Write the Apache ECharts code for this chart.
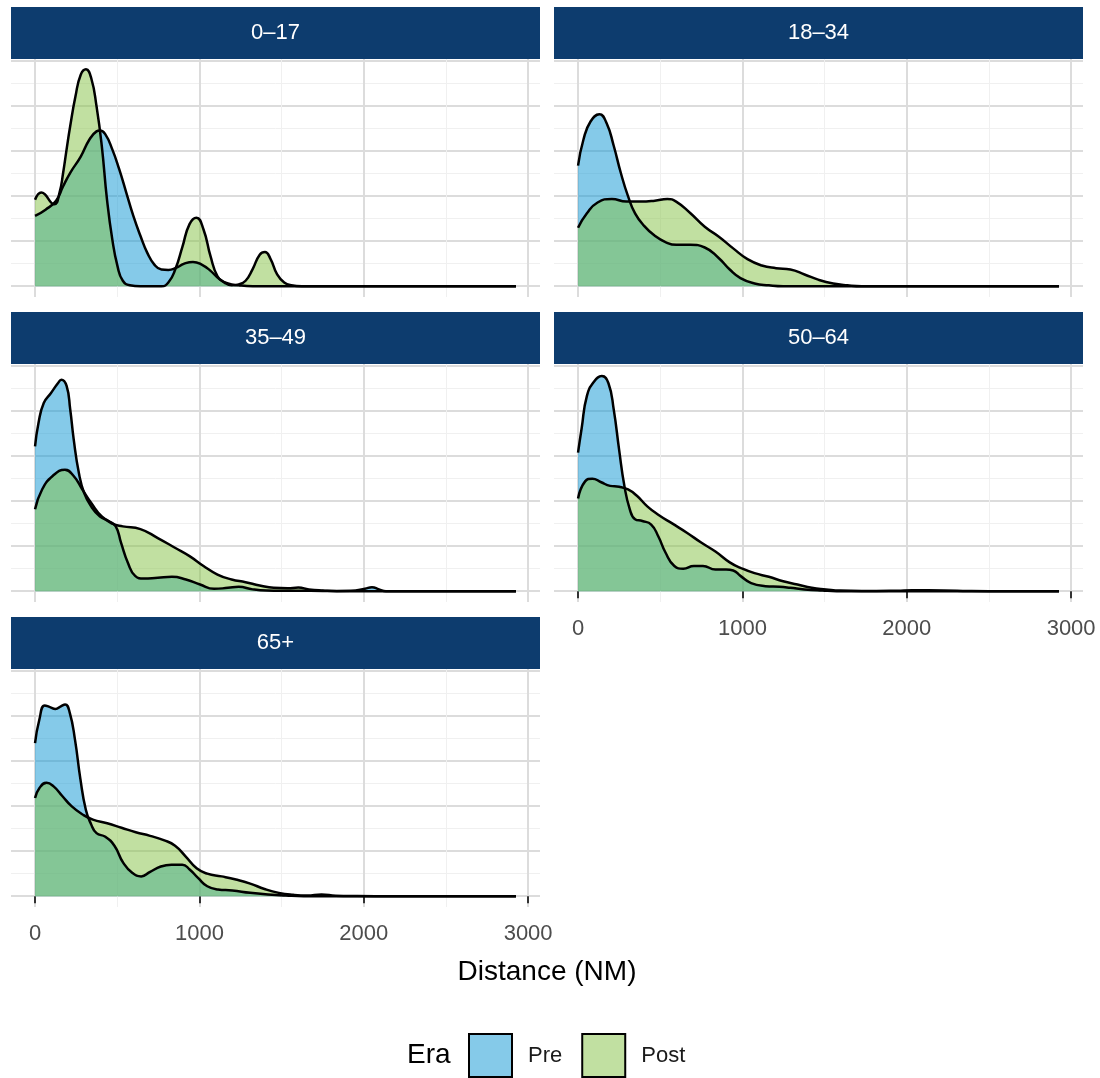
<!DOCTYPE html>
<html>
<head>
<meta charset="utf-8">
<script src="https://cdn.jsdelivr.net/npm/echarts@6/dist/echarts.min.js"></script>
<style>html,body{margin:0;padding:0;background:#fff}#chart{width:1100px;height:1078px}</style>
</head>
<body>
<div id="chart"></div>
<script>
// ---------- data ----------
const panelTitles = ['0–17', '18–34', '35–49', '50–64', '65+'];
const eraNames = ['Pre', 'Post'];
const xTickValues = [0, 1000, 2000, 3000];
const yGridValues = [0, 0.5, 1, 1.5, 2, 2.5];
const xDataMax = 2926;     // distance range of the densities (NM)
const yDataMax = 2.404;    // max density (x 1e-3)

// density estimates (x = distance NM, y = density x 1e-3)
const pre_0_17 = [[0,0.78],[64,0.85],[128,0.95],[171,1.11],[214,1.26],[278,1.44],[331,1.63],[374,1.72],[395,1.73],[427,1.69],[470,1.52],[512,1.30],[555,1.04],[598,0.78],[641,0.56],[683,0.37],[726,0.24],[769,0.185],[811,0.18],[854,0.20],[908,0.25],[961,0.27],[1014,0.24],[1068,0.17],[1121,0.08],[1174,0.03],[1239,0.01],[1324,0],[2926,0]];
const post_0_17 = [[0,0.96],[38,1.04],[117,0.91],[149,1.04],[171,1.26],[192,1.52],[214,1.78],[246,2.11],[278,2.35],[310,2.41],[342,2.31],[374,2.0],[406,1.56],[438,0.96],[470,0.52],[502,0.22],[534,0.06],[577,0.01],[641,0],[769,0],[811,0.04],[854,0.19],[897,0.44],[940,0.69],[982,0.76],[1025,0.63],[1068,0.33],[1110,0.11],[1153,0.04],[1196,0.01],[1239,0.02],[1281,0.06],[1324,0.19],[1367,0.35],[1399,0.38],[1431,0.31],[1473,0.13],[1516,0.04],[1559,0.01],[1623,0],[2926,0]];

const pre_18_34 = [[0,1.34],[33,1.63],[76,1.83],[130,1.91],[174,1.81],[217,1.56],[260,1.26],[304,1.0],[347,0.81],[402,0.67],[467,0.56],[532,0.49],[597,0.46],[684,0.46],[771,0.43],[857,0.31],[923,0.185],[988,0.09],[1074,0.03],[1161,0.01],[1248,0],[2926,0]];
const post_18_34 = [[0,0.65],[54,0.81],[119,0.93],[206,0.97],[293,0.94],[380,0.94],[467,0.95],[543,0.97],[597,0.94],[684,0.81],[771,0.66],[857,0.55],[944,0.42],[1031,0.30],[1118,0.23],[1205,0.20],[1292,0.185],[1378,0.13],[1465,0.07],[1552,0.03],[1639,0.01],[1726,0],[2926,0]];

const pre_35_49 = [[0,1.61],[21,1.87],[53,2.09],[96,2.20],[139,2.31],[160,2.35],[192,2.28],[214,2.02],[235,1.69],[267,1.31],[299,1.09],[342,0.94],[395,0.83],[448,0.78],[491,0.72],[523,0.54],[566,0.31],[609,0.17],[662,0.14],[747,0.15],[833,0.16],[918,0.13],[1004,0.074],[1089,0.026],[1174,0.037],[1239,0.048],[1324,0.02],[1409,0.007],[1495,0.005],[1602,0.005],[1751,0.002],[1922,0.005],[2007,0.026],[2050,0.044],[2093,0.02],[2135,0],[2926,0]];
const post_35_49 = [[0,0.91],[43,1.13],[107,1.28],[182,1.35],[235,1.28],[288,1.13],[342,0.98],[406,0.83],[470,0.75],[534,0.72],[641,0.69],[747,0.59],[854,0.48],[940,0.39],[1025,0.28],[1110,0.185],[1196,0.13],[1281,0.10],[1367,0.063],[1452,0.037],[1537,0.033],[1602,0.04],[1666,0.02],[1751,0.007],[1836,0],[2926,0]];

const pre_50_64 = [[0,1.54],[22,1.81],[54,2.17],[98,2.33],[145,2.39],[185,2.31],[217,2.02],[250,1.57],[282,1.17],[315,0.91],[347,0.80],[391,0.78],[445,0.74],[488,0.61],[532,0.43],[586,0.28],[640,0.25],[705,0.28],[760,0.28],[836,0.24],[901,0.24],[944,0.23],[988,0.17],[1053,0.09],[1140,0.056],[1226,0.048],[1292,0.037],[1378,0.02],[1487,0.007],[1574,0],[2926,0]];
const post_50_64 = [[0,1.03],[43,1.22],[87,1.25],[141,1.21],[195,1.17],[250,1.16],[304,1.13],[358,1.06],[423,0.94],[488,0.85],[575,0.75],[662,0.65],[749,0.54],[836,0.44],[923,0.32],[988,0.26],[1074,0.20],[1161,0.16],[1248,0.11],[1335,0.074],[1422,0.037],[1509,0.02],[1595,0.007],[1726,0.003],[1943,0.006],[2030,0.01],[2225,0.008],[2377,0.002],[2500,0],[2926,0]];

const pre_65 = [[0,1.70],[26,1.96],[59,2.12],[91,2.10],[124,2.08],[157,2.11],[183,2.13],[211,2.04],[243,1.74],[276,1.30],[309,0.96],[341,0.80],[374,0.70],[428,0.66],[483,0.56],[537,0.37],[591,0.26],[646,0.22],[700,0.27],[765,0.33],[830,0.35],[896,0.35],[939,0.30],[993,0.20],[1048,0.11],[1113,0.074],[1200,0.063],[1309,0.037],[1417,0.019],[1526,0.007],[1635,0],[2926,0]];
const post_65 = [[0,1.09],[26,1.20],[70,1.26],[113,1.22],[167,1.11],[222,1.0],[287,0.91],[352,0.85],[439,0.81],[526,0.76],[613,0.71],[700,0.67],[787,0.62],[852,0.56],[917,0.44],[983,0.31],[1048,0.25],[1135,0.22],[1222,0.185],[1309,0.14],[1396,0.08],[1483,0.037],[1570,0.015],[1657,0.007],[1743,0.019],[1830,0.005],[1961,0.002],[2178,0],[2926,0]];

const preByPanel = [pre_0_17, pre_18_34, pre_35_49, pre_50_64, pre_65];
const postByPanel = [post_0_17, post_18_34, post_35_49, post_50_64, post_65];

// ---------- layout / style ----------
const FONT = '"Liberation Sans", Arial, Helvetica, sans-serif';
const PRE_FILL = 'rgba(11,149,211,0.5)';
const POST_FILL = 'rgba(131,193,67,0.5)';
const STRIP_FILL = '#0d3c6e';
const PW = 529, PH = 238, STRIP_H = 52;
const panelPos = [
  {left: 11, top: 59}, {left: 554, top: 59},
  {left: 11, top: 364}, {left: 554, top: 364},
  {left: 11, top: 669}
];
const hasXAxis = [false, false, false, true, true];

const xMin = -0.05 * xDataMax, xMax = 1.05 * xDataMax;
const yMin = -0.05 * yDataMax, yMax = 1.05 * yDataMax;

const majorLine = {color: '#dcdcdc', width: 2};
const minorLine = {color: '#f0f0f0', width: 1};

const grids = [], xAxes = [], yAxes = [], series = [], graphics = [];
panelTitles.forEach((title, i) => {
  const p = panelPos[i];
  grids.push({left: p.left, top: p.top, width: PW, height: PH, containLabel: false});
  xAxes.push({
    type: 'value', gridIndex: i, min: xMin, max: xMax, splitNumber: 3,
    axisLine: {show: false},
    axisTick: {show: hasXAxis[i], customValues: xTickValues, length: 7, lineStyle: {color: '#333333', width: 2}},
    axisLabel: {show: hasXAxis[i], customValues: xTickValues, margin: 16, fontSize: 22, color: '#4d4d4d', fontFamily: FONT,
                formatter: v => String(v)},
    splitLine: {show: true, lineStyle: majorLine},
    minorTick: {show: false, splitNumber: 2},
    minorSplitLine: {show: true, lineStyle: minorLine}
  });
  yAxes.push({
    type: 'value', gridIndex: i, min: yMin, max: yMax, splitNumber: 5,
    axisLine: {show: false},
    axisTick: {show: false, customValues: yGridValues},
    axisLabel: {show: false, customValues: yGridValues},
    splitLine: {show: true, lineStyle: majorLine},
    minorTick: {show: false, splitNumber: 2},
    minorSplitLine: {show: true, lineStyle: minorLine}
  });
  [[eraNames[0], preByPanel[i], PRE_FILL], [eraNames[1], postByPanel[i], POST_FILL]].forEach(([name, data, fill]) => {
    series.push({
      type: 'line', name: name, xAxisIndex: i, yAxisIndex: i, data: data,
      smooth: 0.5, symbol: 'none', showSymbol: false, silent: true,
      lineStyle: {color: '#000', width: 2.5},
      itemStyle: {color: fill},
      areaStyle: {color: fill, opacity: 1},
      emphasis: {disabled: true}
    });
  });
  graphics.push({
    type: 'rect', silent: true,
    shape: {x: p.left, y: p.top - STRIP_H, width: PW, height: STRIP_H},
    style: {fill: STRIP_FILL}
  });
  graphics.push({
    type: 'text', silent: true, x: p.left + PW / 2, y: p.top - STRIP_H / 2,
    style: {text: title, align: 'center', verticalAlign: 'middle', fontSize: 22, fontFamily: FONT, fill: '#ffffff'}
  });
});

graphics.push({
  type: 'text', silent: true, x: 547, y: 972,
  style: {text: 'Distance (NM)', align: 'center', verticalAlign: 'middle', fontSize: 28, fontFamily: FONT, fill: '#000000'}
});
graphics.push({
  type: 'text', silent: true, x: 407, y: 1055,
  style: {text: 'Era', align: 'left', verticalAlign: 'middle', fontSize: 28, fontFamily: FONT, fill: '#000000'}
});

const chart = echarts.init(document.getElementById('chart'), null, {renderer: 'canvas'});
chart.setOption({
  animation: false,
  backgroundColor: '#ffffff',
  grid: grids,
  xAxis: xAxes,
  yAxis: yAxes,
  series: series,
  legend: {
    data: [
      {name: 'Pre', itemStyle: {color: PRE_FILL, borderColor: '#000', borderWidth: 2}},
      {name: 'Post', itemStyle: {color: POST_FILL, borderColor: '#000', borderWidth: 2}}
    ],
    icon: 'rect', left: 468, top: 1033, itemWidth: 43, itemHeight: 43, itemGap: 19,
    padding: 0, selectedMode: false,
    textStyle: {fontSize: 22, color: '#1a1a1a', fontFamily: FONT, padding: [0, 0, 0, 11]}
  },
  graphic: graphics
});
</script>
</body>
</html>
